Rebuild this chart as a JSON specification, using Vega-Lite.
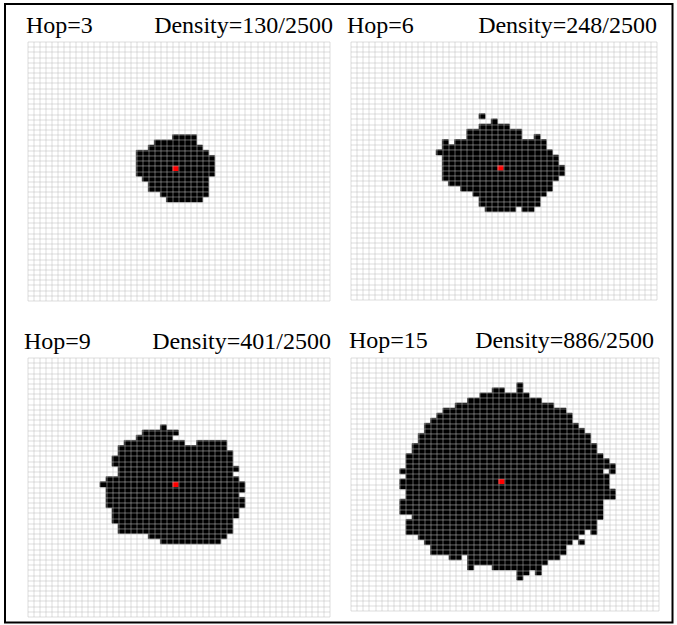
{
  "$schema": "https://vega.github.io/schema/vega-lite/v6.json",
  "padding": {"left": 3.5, "top": 2.5, "right": 0, "bottom": 0},
  "config": {
    "view": {"stroke": null},
    "axis": {"labels": false, "ticks": false, "domain": false, "grid": true, "gridColor": "#bbbbbb", "gridOpacity": 0.5, "gridWidth": 1, "tickCount": 50, "titleFont": "Liberation Serif", "titleFontSize": 24, "titleFontWeight": "normal", "titleColor": "black", "titleBaseline": "alphabetic", "titleAngle": 0, "zindex": 1}
  },
  "datasets": {
    "cells": [
      {"p":1,"r":18,"r1":19,"c0":24,"c1":28},{"p":1,"r":19,"r1":20,"c0":21,"c1":28},{"p":1,"r":20,"r1":21,"c0":20,"c1":29},{"p":1,"r":21,"r1":22,"c0":18,"c1":30},{"p":1,"r":22,"r1":23,"c0":18,"c1":31},{"p":1,"r":23,"r1":24,"c0":18,"c1":31},{"p":1,"r":24,"r1":25,"c0":18,"c1":31},{"p":1,"r":25,"r1":26,"c0":18,"c1":31},{"p":1,"r":26,"r1":27,"c0":19,"c1":30},{"p":1,"r":27,"r1":28,"c0":20,"c1":30},{"p":1,"r":28,"r1":29,"c0":20,"c1":30},{"p":1,"r":29,"r1":30,"c0":22,"c1":30},{"p":1,"r":30,"r1":31,"c0":23,"c1":29},
      {"p":2,"r":14,"r1":15,"c0":21,"c1":22},{"p":2,"r":15,"r1":16,"c0":23,"c1":24},{"p":2,"r":16,"r1":17,"c0":21,"c1":26},{"p":2,"r":17,"r1":18,"c0":19,"c1":28},{"p":2,"r":18,"r1":19,"c0":19,"c1":28},{"p":2,"r":18,"r1":19,"c0":30,"c1":31},{"p":2,"r":19,"r1":20,"c0":15,"c1":16},{"p":2,"r":19,"r1":20,"c0":17,"c1":32},{"p":2,"r":20,"r1":21,"c0":15,"c1":32},{"p":2,"r":21,"r1":22,"c0":14,"c1":33},{"p":2,"r":22,"r1":23,"c0":15,"c1":34},{"p":2,"r":23,"r1":24,"c0":15,"c1":34},{"p":2,"r":24,"r1":25,"c0":15,"c1":35},{"p":2,"r":25,"r1":26,"c0":15,"c1":35},{"p":2,"r":26,"r1":27,"c0":15,"c1":34},{"p":2,"r":27,"r1":28,"c0":16,"c1":33},{"p":2,"r":28,"r1":29,"c0":18,"c1":33},{"p":2,"r":29,"r1":30,"c0":20,"c1":32},{"p":2,"r":30,"r1":31,"c0":21,"c1":31},{"p":2,"r":31,"r1":32,"c0":21,"c1":31},{"p":2,"r":32,"r1":33,"c0":22,"c1":27},{"p":2,"r":32,"r1":33,"c0":28,"c1":30},
      {"p":3,"r":13,"r1":14,"c0":22,"c1":23},{"p":3,"r":14,"r1":15,"c0":19,"c1":25},{"p":3,"r":15,"r1":16,"c0":18,"c1":24},{"p":3,"r":16,"r1":17,"c0":16,"c1":26},{"p":3,"r":16,"r1":17,"c0":28,"c1":33},{"p":3,"r":17,"r1":18,"c0":15,"c1":33},{"p":3,"r":18,"r1":19,"c0":15,"c1":34},{"p":3,"r":19,"r1":20,"c0":14,"c1":34},{"p":3,"r":20,"r1":21,"c0":14,"c1":34},{"p":3,"r":21,"r1":22,"c0":15,"c1":35},{"p":3,"r":22,"r1":23,"c0":15,"c1":34},{"p":3,"r":23,"r1":24,"c0":13,"c1":35},{"p":3,"r":24,"r1":25,"c0":12,"c1":36},{"p":3,"r":25,"r1":26,"c0":13,"c1":36},{"p":3,"r":26,"r1":27,"c0":13,"c1":35},{"p":3,"r":27,"r1":28,"c0":13,"c1":36},{"p":3,"r":28,"r1":29,"c0":13,"c1":36},{"p":3,"r":29,"r1":30,"c0":14,"c1":35},{"p":3,"r":30,"r1":31,"c0":14,"c1":35},{"p":3,"r":31,"r1":32,"c0":14,"c1":34},{"p":3,"r":32,"r1":33,"c0":15,"c1":34},{"p":3,"r":33,"r1":34,"c0":15,"c1":34},{"p":3,"r":34,"r1":35,"c0":20,"c1":33},{"p":3,"r":35,"r1":36,"c0":22,"c1":32},
      {"p":4,"r":5,"r1":6,"c0":27,"c1":28},{"p":4,"r":6,"r1":7,"c0":23,"c1":25},{"p":4,"r":6,"r1":7,"c0":27,"c1":28},{"p":4,"r":7,"r1":8,"c0":21,"c1":29},{"p":4,"r":8,"r1":9,"c0":19,"c1":31},{"p":4,"r":9,"r1":10,"c0":17,"c1":33},{"p":4,"r":10,"r1":11,"c0":15,"c1":35},{"p":4,"r":11,"r1":12,"c0":14,"c1":36},{"p":4,"r":12,"r1":13,"c0":13,"c1":36},{"p":4,"r":13,"r1":14,"c0":12,"c1":37},{"p":4,"r":14,"r1":15,"c0":12,"c1":38},{"p":4,"r":15,"r1":16,"c0":11,"c1":39},{"p":4,"r":16,"r1":17,"c0":11,"c1":39},{"p":4,"r":17,"r1":18,"c0":10,"c1":40},{"p":4,"r":18,"r1":19,"c0":10,"c1":40},{"p":4,"r":19,"r1":20,"c0":9,"c1":41},{"p":4,"r":20,"r1":21,"c0":9,"c1":42},{"p":4,"r":21,"r1":22,"c0":9,"c1":43},{"p":4,"r":22,"r1":23,"c0":8,"c1":41},{"p":4,"r":22,"r1":23,"c0":42,"c1":43},{"p":4,"r":23,"r1":24,"c0":9,"c1":42},{"p":4,"r":24,"r1":25,"c0":8,"c1":42},{"p":4,"r":25,"r1":26,"c0":8,"c1":42},{"p":4,"r":26,"r1":27,"c0":9,"c1":43},{"p":4,"r":27,"r1":28,"c0":9,"c1":43},{"p":4,"r":28,"r1":29,"c0":8,"c1":41},{"p":4,"r":29,"r1":30,"c0":8,"c1":41},{"p":4,"r":30,"r1":31,"c0":8,"c1":41},{"p":4,"r":31,"r1":32,"c0":10,"c1":41},{"p":4,"r":32,"r1":33,"c0":9,"c1":40},{"p":4,"r":33,"r1":34,"c0":9,"c1":40},{"p":4,"r":34,"r1":35,"c0":9,"c1":38},{"p":4,"r":34,"r1":35,"c0":39,"c1":40},{"p":4,"r":35,"r1":36,"c0":11,"c1":37},{"p":4,"r":36,"r1":37,"c0":12,"c1":36},{"p":4,"r":36,"r1":37,"c0":37,"c1":38},{"p":4,"r":37,"r1":38,"c0":13,"c1":35},{"p":4,"r":38,"r1":39,"c0":13,"c1":35},{"p":4,"r":39,"r1":40,"c0":16,"c1":18},{"p":4,"r":39,"r1":40,"c0":19,"c1":34},{"p":4,"r":40,"r1":41,"c0":19,"c1":32},{"p":4,"r":41,"r1":42,"c0":19,"c1":20},{"p":4,"r":41,"r1":42,"c0":23,"c1":31},{"p":4,"r":42,"r1":43,"c0":27,"c1":29},{"p":4,"r":42,"r1":43,"c0":30,"c1":31},{"p":4,"r":43,"r1":44,"c0":27,"c1":28}
    ],
    "centers": [
      {"p":1,"r":24,"r1":25,"c0":24,"c1":25},{"p":2,"r":24,"r1":25,"c0":24,"c1":25},{"p":3,"r":24,"r1":25,"c0":24,"c1":25},{"p":4,"r":24,"r1":25,"c0":24,"c1":25}
    ],
    "frame": [{"x0": -3.725, "x1": 106.79, "y0": -7.24, "y1": 112.16}]
  },
  "concat": [
    {
      "width": 302, "height": 259,
      "encoding": {
        "x": {"field": "c0", "type": "quantitative", "scale": {"domain": [0, 50], "nice": false, "zero": false}, "axis": {"orient": "top", "zindex": 1, "title": "Density=130/2500", "titleAlign": "right", "titleX": 305, "titleY": -9}},
        "x2": {"field": "c1"},
        "y": {"field": "r", "type": "quantitative", "scale": {"domain": [0, 50], "nice": false, "zero": false, "reverse": true}, "axis": {"orient": "left", "zindex": 1, "title": "Hop=3", "titleAlign": "left", "titleX": -2, "titleY": -9}},
        "y2": {"field": "r1"}
      },
      "layer": [
        {"data": {"name": "cells"}, "transform": [{"filter": "datum.p == 1"}], "mark": {"type": "rect", "color": "black", "stroke": "black", "strokeWidth": 0.6}},
        {"data": {"name": "centers"}, "transform": [{"filter": "datum.p == 1"}], "mark": {"type": "rect", "color": "#ff0000"}},
        {"data": {"name": "frame"}, "mark": {"type": "rect", "filled": false, "stroke": "black", "strokeWidth": 2, "clip": false},
         "encoding": {"x": {"field": "x0", "type": "quantitative"}, "x2": {"field": "x1"}, "y": {"field": "y0", "type": "quantitative"}, "y2": {"field": "y1"}}}
      ]
    },
    {
      "width": 306, "height": 258,
      "encoding": {
        "x": {"field": "c0", "type": "quantitative", "scale": {"domain": [0, 50], "nice": false, "zero": false}, "axis": {"orient": "top", "zindex": 1, "title": "Density=248/2500", "titleAlign": "right", "titleX": 306, "titleY": -9}},
        "x2": {"field": "c1"},
        "y": {"field": "r", "type": "quantitative", "scale": {"domain": [0, 50], "nice": false, "zero": false, "reverse": true}, "axis": {"orient": "left", "zindex": 1, "title": "Hop=6", "titleAlign": "left", "titleX": -4, "titleY": -9}},
        "y2": {"field": "r1"}
      },
      "layer": [
        {"data": {"name": "cells"}, "transform": [{"filter": "datum.p == 2"}], "mark": {"type": "rect", "color": "black", "stroke": "black", "strokeWidth": 0.6}},
        {"data": {"name": "centers"}, "transform": [{"filter": "datum.p == 2"}], "mark": {"type": "rect", "color": "#ff0000"}}
      ]
    },
    {
      "width": 302, "height": 259,
      "encoding": {
        "x": {"field": "c0", "type": "quantitative", "scale": {"domain": [0, 50], "nice": false, "zero": false}, "axis": {"orient": "top", "zindex": 1, "title": "Density=401/2500", "titleAlign": "right", "titleX": 303, "titleY": -9}},
        "x2": {"field": "c1"},
        "y": {"field": "r", "type": "quantitative", "scale": {"domain": [0, 50], "nice": false, "zero": false, "reverse": true}, "axis": {"orient": "left", "zindex": 1, "title": "Hop=9", "titleAlign": "left", "titleX": -4, "titleY": -9}},
        "y2": {"field": "r1"}
      },
      "layer": [
        {"data": {"name": "cells"}, "transform": [{"filter": "datum.p == 3"}], "mark": {"type": "rect", "color": "black", "stroke": "black", "strokeWidth": 0.6}},
        {"data": {"name": "centers"}, "transform": [{"filter": "datum.p == 3"}], "mark": {"type": "rect", "color": "#ff0000"}}
      ]
    },
    {
      "width": 308, "height": 253,
      "encoding": {
        "x": {"field": "c0", "type": "quantitative", "scale": {"domain": [0, 50], "nice": false, "zero": false}, "axis": {"orient": "top", "zindex": 1, "title": "Density=886/2500", "titleAlign": "right", "titleX": 303, "titleY": -10}},
        "x2": {"field": "c1"},
        "y": {"field": "r", "type": "quantitative", "scale": {"domain": [0, 50], "nice": false, "zero": false, "reverse": true}, "axis": {"orient": "left", "zindex": 1, "title": "Hop=15", "titleAlign": "left", "titleX": -2, "titleY": -10}},
        "y2": {"field": "r1"}
      },
      "layer": [
        {"data": {"name": "cells"}, "transform": [{"filter": "datum.p == 4"}], "mark": {"type": "rect", "color": "black", "stroke": "black", "strokeWidth": 0.6}},
        {"data": {"name": "centers"}, "transform": [{"filter": "datum.p == 4"}], "mark": {"type": "rect", "color": "#ff0000"}}
      ]
    }
  ],
  "columns": 2,
  "spacing": {"row": 57, "column": 21},
  "bounds": "flush"
}
